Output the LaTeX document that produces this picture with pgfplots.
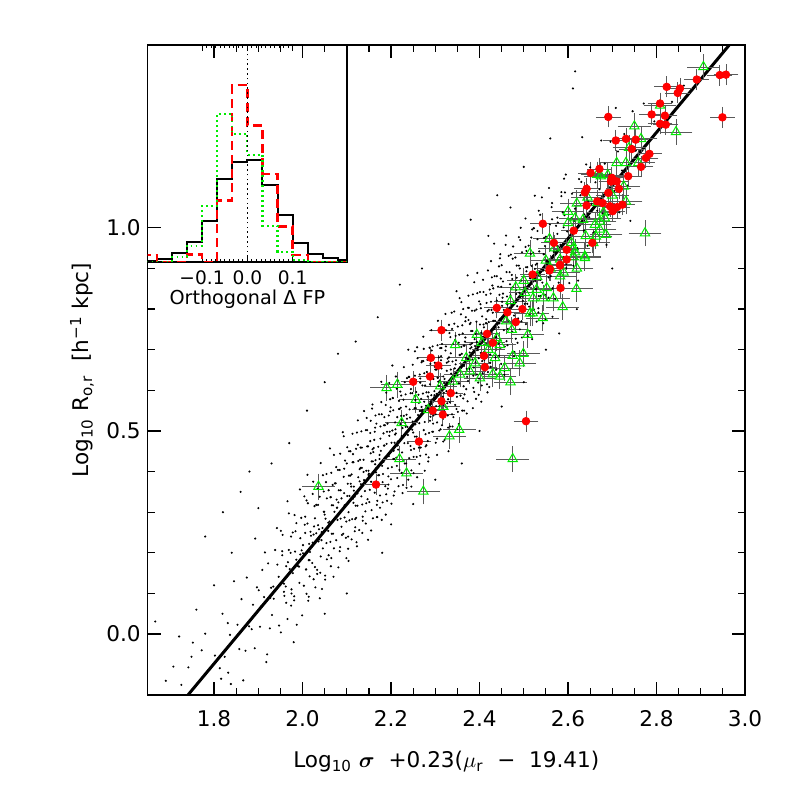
\documentclass[border=0pt]{standalone}
\usepackage{fontspec}
\setmainfont{DejaVu Sans}
\usepackage{bm}
\usepackage{pgfplots}
\pgfplotsset{compat=1.18}
\definecolor{hgreen}{RGB}{0,235,0}
\definecolor{hred}{RGB}{255,0,0}
\definecolor{ebar}{RGB}{90,90,90}

% faint sample (black dots)
\pgfplotstableread{
x y
1.667 0.031
1.691 -0.115
1.708 -0.080
1.721 -0.006
1.742 -0.082
1.749 -0.056
1.752 -0.021
1.780 0.001
1.813 -0.084
1.832 -0.095
1.836 -0.002
1.772 -0.040
1.726 -0.125
1.76 0.06
1.78 0.24
1.80 0.12
1.82 0.30
1.84 0.20
1.86 0.35
1.88 0.40
1.90 0.31
1.93 0.42
1.97 0.47
2.01 0.55
2.05 0.62
2.08 0.69
2.12 0.72
2.17 0.78
2.22 0.86
2.27 0.90
2.33 0.96
2.38 1.02
2.42 0.98
2.44 1.08
2.47 1.05
2.50 1.15
2.56 1.22
2.577 1.013
2.593 1.087
2.611 1.343
2.616 1.385
1.92 -0.05
1.98 -0.02
2.05 0.05
2.10 0.10
2.18 0.20
2.20 0.27
2.25 0.32
2.30 0.38
2.33 0.45
2.36 0.42
2.40 0.50
2.45 0.56
2.50 0.62
2.55 0.70
2.58 0.74
2.62 0.80
2.70 0.90
1.802 -0.053
1.816 -0.110
1.819 0.050
1.824 -0.056
1.831 0.027
1.838 -0.123
1.845 0.130
1.853 0.023
1.857 -0.037
1.862 0.086
1.866 -0.114
1.879 0.019
1.874 0.139
1.871 -0.041
1.888 0.072
1.885 0.012
1.893 0.235
1.897 0.115
1.892 -0.035
1.906 0.068
1.909 0.158
1.904 0.018
1.901 0.108
1.918 -0.069
1.915 0.201
1.913 0.091
1.927 0.089
1.922 0.174
1.926 0.014
1.929 0.114
1.934 0.117
1.931 0.047
1.938 0.207
1.935 0.087
1.943 0.171
1.947 0.021
1.942 0.261
1.946 0.141
1.959 0.094
1.954 0.204
1.951 0.004
1.958 0.124
1.955 0.244
1.963 0.077
1.967 0.177
1.962 0.117
1.966 0.327
1.969 0.207
1.974 0.070
1.971 0.160
1.978 0.250
1.975 0.110
1.973 0.200
1.987 0.023
1.982 0.293
1.986 0.183
1.989 0.168
1.984 0.253
1.981 0.093
1.998 0.206
1.995 0.196
1.993 0.126
1.997 0.286
1.992 0.166
2.006 0.249
2.009 0.099
2.004 0.339
2.001 0.219
2.008 0.159
2.005 0.269
2.013 0.082
2.017 0.202
2.012 0.322
2.016 0.142
2.019 0.242
2.014 0.182
2.011 0.392
2.028 0.285
2.025 0.135
2.023 0.225
2.027 0.315
2.022 0.175
2.026 0.265
2.039 0.088
2.034 0.358
2.031 0.248
2.038 0.233
2.035 0.318
2.033 0.158
2.037 0.258
2.045 0.261
2.041 0.191
2.048 0.351
2.043 0.231
2.049 0.301
2.040 0.151
2.046 0.391
2.052 0.284
2.054 0.224
2.055 0.334
2.051 0.134
2.058 0.254
2.053 0.374
2.059 0.194
2.050 0.294
2.066 0.247
2.062 0.457
2.064 0.337
2.065 0.187
2.061 0.277
2.068 0.367
2.063 0.227
2.069 0.317
2.070 0.141
2.076 0.411
2.072 0.301
2.074 0.286
2.075 0.371
2.071 0.211
2.078 0.311
2.077 0.331
2.089 0.244
2.080 0.404
2.086 0.284
2.082 0.354
2.084 0.204
2.085 0.444
2.081 0.324
2.088 0.264
2.093 0.387
2.099 0.187
2.090 0.307
2.096 0.427
2.092 0.247
2.094 0.347
2.095 0.287
2.091 0.497
2.108 0.390
2.103 0.240
2.109 0.330
2.100 0.420
2.106 0.280
2.102 0.370
2.104 0.180
2.105 0.450
2.101 0.340
2.118 0.338
2.113 0.423
2.119 0.263
2.110 0.363
2.116 0.353
2.112 0.283
2.114 0.443
2.115 0.323
2.111 0.393
2.128 0.256
2.123 0.496
2.129 0.376
2.120 0.316
2.126 0.426
2.122 0.226
2.124 0.346
2.125 0.466
2.121 0.286
2.138 0.399
2.133 0.339
2.139 0.549
2.130 0.429
2.136 0.279
2.132 0.369
2.134 0.459
2.135 0.319
2.131 0.409
2.148 0.232
2.143 0.502
2.149 0.392
2.140 0.377
2.146 0.462
2.142 0.302
2.144 0.402
2.147 0.332
2.153 0.475
2.150 0.395
2.159 0.285
2.154 0.525
2.156 0.425
2.151 0.325
2.158 0.455
2.155 0.375
2.157 0.555
2.152 0.355
2.160 0.448
2.169 0.288
2.164 0.508
2.166 0.398
2.161 0.458
2.168 0.318
2.165 0.428
2.167 0.518
2.163 0.348
2.162 0.478
2.179 0.281
2.174 0.431
2.176 0.511
2.171 0.391
2.178 0.621
2.175 0.341
2.177 0.451
2.173 0.541
2.170 0.411
2.172 0.371
2.184 0.514
2.186 0.434
2.181 0.324
2.188 0.564
2.185 0.464
2.187 0.364
2.183 0.494
2.180 0.414
2.189 0.594
2.182 0.394
2.196 0.488
2.191 0.328
2.198 0.548
2.195 0.438
2.197 0.498
2.193 0.358
2.190 0.468
2.199 0.558
2.194 0.388
2.192 0.518
2.201 0.321
2.208 0.471
2.205 0.551
2.207 0.431
2.203 0.661
2.200 0.381
2.209 0.491
2.204 0.581
2.206 0.451
2.202 0.411
2.218 0.554
2.215 0.474
2.217 0.364
2.213 0.604
2.210 0.504
2.219 0.404
2.214 0.534
2.216 0.454
2.211 0.634
2.212 0.434
2.225 0.527
2.227 0.367
2.223 0.587
2.220 0.477
2.229 0.537
2.224 0.397
2.226 0.507
2.221 0.597
2.228 0.427
2.222 0.557
2.235 0.360
2.237 0.510
2.233 0.590
2.230 0.470
2.239 0.700
2.234 0.420
2.236 0.530
2.231 0.620
2.238 0.490
2.232 0.520
2.241 0.433
2.248 0.593
2.243 0.508
2.249 0.523
2.240 0.633
2.246 0.363
2.242 0.553
2.244 0.463
2.245 0.603
2.247 0.513
2.258 0.436
2.253 0.586
2.259 0.706
2.250 0.496
2.256 0.556
2.252 0.456
2.254 0.636
2.255 0.516
2.251 0.396
2.257 0.596
2.254 0.486
2.269 0.559
2.260 0.679
2.266 0.439
2.262 0.589
2.264 0.519
2.265 0.639
2.261 0.479
2.268 0.549
2.263 0.569
2.267 0.459
2.266 0.619
2.273 0.547
2.279 0.562
2.270 0.672
2.276 0.402
2.272 0.592
2.274 0.502
2.275 0.642
2.271 0.552
2.278 0.462
2.277 0.612
2.273 0.732
2.289 0.535
2.280 0.595
2.286 0.495
2.282 0.675
2.284 0.555
2.285 0.435
2.281 0.635
2.288 0.525
2.283 0.585
2.287 0.705
2.280 0.465
2.296 0.628
2.292 0.558
2.294 0.678
2.295 0.518
2.291 0.588
2.298 0.598
2.293 0.498
2.299 0.658
2.290 0.573
2.297 0.583
2.292 0.698
2.304 0.441
2.305 0.631
2.301 0.541
2.308 0.681
2.303 0.591
2.309 0.501
2.300 0.651
2.306 0.771
2.302 0.561
2.307 0.621
2.304 0.521
2.315 0.714
2.311 0.594
2.318 0.474
2.313 0.674
2.319 0.564
2.310 0.624
2.316 0.744
2.312 0.504
2.314 0.654
2.317 0.584
2.311 0.704
2.325 0.558
2.321 0.628
2.327 0.568
2.323 0.698
2.320 0.618
2.329 0.508
2.324 0.748
2.326 0.648
2.321 0.548
2.328 0.678
2.325 0.598
2.337 0.791
2.333 0.591
2.330 0.671
2.339 0.511
2.334 0.731
2.336 0.621
2.331 0.681
2.338 0.541
2.335 0.651
2.332 0.741
2.333 0.571
2.340 0.714
2.349 0.504
2.344 0.654
2.346 0.734
2.341 0.614
2.348 0.844
2.345 0.564
2.347 0.674
2.343 0.764
2.342 0.634
2.348 0.594
2.354 0.737
2.356 0.657
2.351 0.547
2.358 0.787
2.355 0.687
2.357 0.587
2.353 0.717
2.350 0.637
2.359 0.817
2.352 0.617
2.366 0.710
2.361 0.550
2.368 0.770
2.365 0.660
2.367 0.720
2.363 0.580
2.360 0.690
2.369 0.780
2.364 0.610
2.362 0.740
2.371 0.543
2.378 0.693
2.375 0.773
2.377 0.653
2.373 0.883
2.370 0.603
2.379 0.713
2.374 0.803
2.376 0.673
2.372 0.633
2.382 0.706
2.386 0.636
2.389 0.796
2.384 0.676
2.381 0.746
2.388 0.596
2.385 0.836
2.383 0.716
2.387 0.656
2.380 0.766
2.392 0.579
2.396 0.699
2.399 0.819
2.394 0.639
2.391 0.739
2.398 0.679
2.395 0.889
2.393 0.769
2.397 0.619
2.390 0.709
2.402 0.812
2.406 0.672
2.409 0.762
2.404 0.572
2.401 0.842
2.408 0.732
2.405 0.717
2.403 0.802
2.407 0.642
2.410 0.755
2.416 0.765
2.412 0.665
2.418 0.795
2.414 0.715
2.419 0.895
2.411 0.695
2.415 0.775
2.417 0.615
2.423 0.848
2.420 0.738
2.427 0.798
2.425 0.658
2.421 0.768
2.429 0.858
2.424 0.688
2.426 0.818
2.422 0.608
2.435 0.771
2.431 0.851
2.438 0.731
2.433 0.961
2.436 0.681
2.430 0.791
2.439 0.881
2.434 0.751
2.437 0.711
2.442 0.855
2.446 0.775
2.449 0.665
2.444 0.905
2.441 0.805
2.448 0.705
2.445 0.835
2.443 0.755
2.447 0.935
2.451 0.808
2.457 0.708
2.453 0.868
2.459 0.783
2.455 0.798
2.450 0.908
2.456 0.638
2.452 0.828
2.464 0.751
2.461 0.891
2.468 0.801
2.463 0.711
2.469 0.861
2.460 0.981
2.466 0.771
2.462 0.831
2.474 0.744
2.475 0.924
2.471 0.804
2.478 0.684
2.473 0.884
2.479 0.774
2.470 0.834
2.476 0.954
2.482 0.727
2.484 0.877
2.485 0.807
2.481 0.927
2.488 0.767
2.483 0.837
2.487 0.777
2.489 0.907
2.490 0.840
2.496 0.730
2.492 0.970
2.494 0.870
2.495 0.770
2.491 0.900
2.498 0.820
2.493 1.000
2.502 0.813
2.506 0.893
2.509 0.733
2.504 0.953
2.501 0.843
2.508 0.903
2.505 0.763
2.513 0.886
2.517 0.976
2.512 0.806
2.516 0.936
2.519 0.726
2.514 0.876
2.511 0.956
2.528 0.849
2.525 1.079
2.523 0.799
2.527 0.909
2.522 0.999
2.526 0.869
2.529 0.889
2.534 0.832
2.531 0.992
2.538 0.872
2.535 0.942
2.533 0.792
2.537 1.032
2.530 0.912
2.542 0.865
2.546 0.975
2.549 0.775
2.544 0.895
2.541 1.015
2.548 0.835
2.545 0.935
2.553 0.888
2.557 1.098
2.550 0.978
2.556 0.828
2.552 0.918
2.564 1.021
2.561 0.881
2.568 0.971
2.565 0.781
2.563 1.051
2.577 0.955
2.572 0.940
2.576 1.025
2.579 0.865
2.574 0.965
2.581 0.908
2.588 1.038
2.583 0.958
2.589 0.848
2.585 1.088
2.590 1.001
2.596 0.901
2.592 1.031
2.594 0.951
2.595 1.131
2.601 0.944
2.608 1.024
2.603 0.864
2.609 1.084
2.610 0.987
2.616 1.047
2.612 0.907
2.614 1.017
2.625 1.120
2.621 0.950
2.628 1.080
2.623 0.870
2.637 1.033
2.630 1.113
2.636 0.993
2.632 1.223
2.644 0.956
2.645 1.066
2.641 1.156
2.648 1.026
2.653 1.059
2.659 0.989
2.650 1.149
2.666 1.042
2.662 1.112
2.664 0.962
2.675 1.215
2.671 1.095
2.678 1.035
2.683 1.158
2.687 0.958
2.680 1.078
2.696 1.212
2.692 1.032
2.694 1.132
2.705 1.091
2.708 1.295
2.713 1.188
2.716 1.038
2.722 1.141
2.727 1.231
2.734 1.104
2.738 1.194
2.741 1.017
2.746 1.287
2.753 1.190
2.762 1.188
2.771 1.306
2.784 1.214
2.795 1.262
2.812 1.256
2.835 1.310
2.862 1.350
}\sample

% more of the dense core of the sample
\pgfplotstableread{
x y
1.954 0.194
1.958 0.104
1.951 0.254
1.966 0.037
1.963 0.167
1.969 0.297
1.975 0.100
1.974 0.240
1.978 0.150
1.981 0.083
1.986 0.273
1.983 0.203
1.999 0.046
1.995 0.236
1.994 0.356
2.008 0.159
2.001 0.199
2.006 0.289
2.003 0.119
2.009 0.329
2.015 0.222
2.014 0.092
2.018 0.252
2.011 0.272
2.016 0.182
2.023 0.345
2.029 0.115
2.025 0.245
2.024 0.375
2.028 0.165
2.031 0.318
2.036 0.228
2.033 0.148
2.039 0.338
2.035 0.268
2.044 0.111
2.048 0.301
2.041 0.421
2.046 0.211
2.043 0.251
2.059 0.354
2.055 0.184
2.054 0.394
2.058 0.274
2.051 0.144
2.066 0.317
2.063 0.337
2.069 0.247
2.065 0.397
2.064 0.167
2.078 0.311
2.071 0.441
2.076 0.231
2.073 0.371
2.079 0.281
2.085 0.214
2.084 0.404
2.088 0.334
2.081 0.164
2.086 0.354
2.093 0.487
2.099 0.277
2.095 0.317
2.094 0.407
2.098 0.237
2.101 0.460
2.106 0.340
2.103 0.210
2.109 0.370
2.105 0.390
2.104 0.300
2.108 0.450
2.111 0.233
2.116 0.363
2.113 0.493
2.119 0.283
2.115 0.423
2.114 0.333
2.118 0.253
2.121 0.456
2.126 0.386
2.123 0.216
2.129 0.406
2.125 0.526
2.124 0.316
2.128 0.356
2.131 0.459
2.136 0.289
2.133 0.499
2.139 0.379
2.135 0.249
2.134 0.409
2.138 0.429
2.141 0.352
2.146 0.502
2.143 0.272
2.149 0.402
2.145 0.532
2.144 0.322
2.148 0.462
2.151 0.385
2.156 0.305
2.153 0.495
2.159 0.425
2.155 0.255
2.154 0.445
2.158 0.565
2.161 0.368
2.166 0.408
2.163 0.498
2.169 0.328
2.165 0.538
2.164 0.418
2.168 0.288
2.171 0.461
2.176 0.481
2.173 0.391
2.179 0.541
2.175 0.311
2.174 0.441
2.178 0.571
2.181 0.374
2.186 0.514
2.183 0.424
2.189 0.344
2.185 0.534
2.184 0.464
2.188 0.294
2.191 0.498
2.196 0.618
2.193 0.408
2.199 0.448
2.195 0.538
2.194 0.368
2.198 0.578
2.201 0.471
2.206 0.341
2.203 0.501
2.209 0.521
2.205 0.431
2.204 0.581
2.208 0.351
2.211 0.494
2.216 0.624
2.213 0.414
2.219 0.554
2.215 0.464
2.214 0.384
2.218 0.574
2.221 0.517
2.226 0.347
2.223 0.537
2.229 0.657
2.225 0.447
2.224 0.487
2.228 0.577
2.231 0.420
2.236 0.630
2.233 0.510
2.239 0.380
2.235 0.540
2.234 0.560
2.238 0.470
2.241 0.633
2.246 0.403
2.243 0.533
2.249 0.663
2.245 0.453
2.244 0.593
2.248 0.503
2.251 0.436
2.256 0.626
2.253 0.556
2.259 0.386
2.255 0.576
2.254 0.696
2.258 0.486
2.261 0.539
2.266 0.629
2.263 0.459
2.269 0.669
2.265 0.549
2.264 0.419
2.268 0.579
2.271 0.612
2.276 0.522
2.273 0.672
2.279 0.442
2.275 0.572
2.274 0.702
2.278 0.492
2.281 0.645
2.286 0.555
2.283 0.475
2.289 0.665
2.285 0.595
2.284 0.425
2.288 0.615
2.291 0.748
2.296 0.538
2.293 0.578
2.299 0.668
2.295 0.498
2.294 0.708
2.298 0.588
2.301 0.471
2.306 0.631
2.303 0.651
2.309 0.561
2.305 0.711
2.304 0.481
2.308 0.611
2.311 0.754
2.316 0.544
2.313 0.684
2.319 0.594
2.315 0.514
2.314 0.704
2.318 0.634
2.321 0.478
2.326 0.668
2.323 0.788
2.329 0.578
2.325 0.618
2.324 0.708
2.328 0.538
2.331 0.761
2.336 0.641
2.333 0.511
2.339 0.671
2.335 0.691
2.334 0.601
2.338 0.751
2.341 0.534
2.346 0.664
2.343 0.794
2.349 0.584
2.345 0.724
2.344 0.634
2.348 0.554
2.351 0.757
2.356 0.687
2.353 0.517
2.359 0.707
2.355 0.827
2.354 0.617
2.358 0.657
2.361 0.760
2.366 0.590
2.363 0.800
2.369 0.680
2.365 0.550
2.364 0.710
2.368 0.730
2.371 0.653
2.376 0.803
2.373 0.573
2.379 0.703
2.375 0.833
2.374 0.623
2.378 0.763
2.381 0.686
2.386 0.606
2.383 0.796
2.389 0.726
2.385 0.556
2.384 0.746
2.388 0.866
2.391 0.669
2.396 0.709
2.393 0.799
2.399 0.629
2.395 0.839
2.394 0.719
2.398 0.589
2.401 0.762
2.406 0.782
2.403 0.692
2.409 0.842
2.405 0.612
2.404 0.742
2.408 0.872
2.411 0.675
2.416 0.815
2.413 0.725
2.419 0.645
2.415 0.835
2.414 0.765
2.418 0.595
2.421 0.798
2.426 0.918
2.423 0.708
2.429 0.748
2.425 0.838
2.424 0.668
2.428 0.878
2.431 0.771
2.436 0.641
2.433 0.801
2.439 0.821
2.435 0.731
2.434 0.881
2.438 0.651
2.441 0.795
2.446 0.925
2.443 0.715
2.449 0.855
2.445 0.765
2.444 0.685
2.448 0.875
2.451 0.818
2.456 0.648
2.453 0.838
2.459 0.958
2.455 0.748
2.464 0.801
2.468 0.891
2.461 0.721
2.466 0.931
2.463 0.811
2.479 0.694
2.475 0.854
2.474 0.874
2.478 0.784
2.471 0.934
2.486 0.717
2.483 0.847
2.489 0.977
2.485 0.767
2.484 0.907
2.498 0.830
2.491 0.750
2.496 0.940
2.493 0.870
2.499 0.700
2.505 0.903
2.504 1.023
2.508 0.813
2.501 0.853
2.506 0.943
2.513 0.786
2.519 0.996
2.515 0.876
2.514 0.746
2.518 0.906
2.521 0.939
2.526 0.849
2.523 0.999
2.529 0.769
2.525 0.899
2.534 1.042
2.538 0.832
2.531 0.972
2.536 0.882
2.533 0.802
2.549 1.005
2.545 0.935
2.544 0.765
2.548 0.955
2.541 1.075
2.556 0.878
2.553 0.918
2.559 1.008
2.565 0.851
2.564 1.061
2.568 0.941
2.571 0.825
2.576 0.985
2.573 1.005
2.589 0.928
2.585 1.078
2.584 0.848
2.598 0.991
2.591 1.121
2.596 0.911
}\sampleb

% green triangles
\pgfplotstableread{
x y
2.906 1.396
2.808 1.301
2.844 1.236
2.765 1.219
2.738 1.197
2.710 1.160
2.731 1.160
2.759 1.160
2.666 1.131
2.674 1.127
2.726 1.102
2.644 1.075
2.666 1.061
2.731 1.065
2.616 1.024
2.634 1.020
2.680 1.038
2.683 1.024
2.600 1.012
2.661 1.008
2.672 1.016
2.558 0.973
2.608 0.963
2.663 0.979
2.686 0.983
2.616 0.940
2.638 0.926
2.657 0.963
2.774 0.987
2.582 0.922
2.612 0.950
2.672 0.996
2.514 0.937
2.638 0.930
2.612 0.928
2.582 0.881
2.619 0.850
2.588 0.805
2.567 0.827
2.544 0.827
2.521 0.827
2.543 0.778
2.514 0.789
2.482 0.854
2.503 0.840
2.529 0.848
2.552 0.852
2.473 0.749
2.509 0.737
2.446 0.712
2.439 0.729
2.394 0.737
2.405 0.717
2.345 0.712
2.435 0.680
2.475 0.685
2.499 0.690
2.491 0.667
2.457 0.655
2.446 0.634
2.390 0.667
2.401 0.630
2.378 0.647
2.356 0.639
2.311 0.610
2.340 0.622
2.190 0.606
2.214 0.614
2.256 0.577
2.284 0.552
2.318 0.560
2.224 0.520
2.354 0.503
2.332 0.487
2.219 0.431
2.235 0.396
2.273 0.351
2.475 0.431
2.036 0.363
2.560 0.900
2.590 0.890
2.620 0.900
2.640 0.980
2.600 1.040
2.570 0.950
2.550 0.920
2.530 0.880
2.500 0.870
2.470 0.820
2.460 0.770
2.420 0.700
2.370 0.680
2.430 0.640
2.470 0.620
2.520 0.790
2.700 1.080
2.690 1.130
2.620 1.060
2.750 1.250
}\greenpts

% red circles
\pgfplotstableread{
x y
2.543 1.010
2.568 0.963
2.613 0.993
2.655 0.963
2.582 0.909
2.597 0.946
2.597 0.922
2.559 0.899
2.691 1.273
2.708 1.215
2.731 1.219
2.753 1.217
2.744 1.194
2.671 1.145
2.651 1.135
2.699 1.123
2.697 1.114
2.710 1.114
2.736 1.127
2.715 1.096
2.691 1.086
2.642 1.096
2.638 1.087
2.642 1.055
2.666 1.065
2.678 1.061
2.695 1.053
2.701 1.041
2.711 1.051
2.723 1.057
2.765 1.150
2.776 1.172
2.784 1.182
2.789 1.279
2.808 1.306
2.819 1.276
2.808 1.256
2.821 1.254
2.823 1.347
2.848 1.332
2.853 1.343
2.891 1.365
2.943 1.376
2.957 1.377
2.949 1.272
2.314 0.748
2.290 0.680
2.307 0.661
2.288 0.634
2.250 0.621
2.335 0.593
2.314 0.573
2.294 0.550
2.317 0.540
2.263 0.474
2.505 0.524
2.439 0.803
2.463 0.792
2.497 0.800
2.482 0.768
2.417 0.739
2.430 0.717
2.410 0.685
2.412 0.657
2.520 0.885
2.558 0.895
2.582 0.907
2.583 0.852
2.166 0.368
}\redpts

\begin{document}
\begin{tikzpicture}
\useasboundingbox (-73.85pt,-47pt) rectangle (320.65pt,347.5pt);
\begin{axis}[
    name=main,
    at={(0pt,0pt)}, anchor=south west,
    scale only axis,
    width=298.65pt, height=325pt,
    xmin=1.65, xmax=3.0, ymin=-0.15, ymax=1.45,
    xtick={1.8,2.0,2.2,2.4,2.6,2.8,3.0},
    xticklabels={1.8,2.0,2.2,2.4,2.6,2.8,3.0},
    ytick={0,0.5,1.0},
    yticklabels={0.0,0.5,1.0},
    minor x tick num=3,
    minor y tick num=4,
    major tick length=6.5pt,
    minor tick length=3.5pt,
    tick style={black, line width=0.6pt},
    axis line style={line width=0.8pt},
    tick label style={font=\fontsize{10.8}{13}\selectfont},
    xticklabel style={yshift=-4pt},
    label style={font=\fontsize{10.8}{13}\selectfont},
    xlabel={Log\textsubscript{10}\ $\bm{\sigma}$\ \ +0.23($\mu_{\mathrm{r}}$\ \ −\ \ 19.41)},
    ylabel={Log\textsubscript{10}\ R\textsubscript{o,r}\ \ [h\textsuperscript{−1}\ kpc]},
    xlabel style={at={(axis description cs:0.5,-0.103)}, anchor=center},
    ylabel style={at={(axis description cs:-0.11,0.5)}, anchor=center},
    clip=true,
]
\addplot[only marks, mark=*, mark size=0.3pt, mark options={draw=none, fill=black!85}] table[x=x, y=y] {\sample};
\addplot[only marks, mark=*, mark size=0.3pt, mark options={draw=none, fill=black!85}] table[x=x, y=y] {\sampleb};
\addplot[black, line width=1.5pt] coordinates {(1.741,-0.15) (2.9645,1.45)};
\addplot[only marks, mark=triangle, mark size=2.7pt,
    mark options={draw=hgreen, fill=none, line width=0.5pt},
    error bars/.cd, x dir=both, x fixed=0.028, y dir=both, y fixed=0.022,
    error bar style={ebar, line width=0.4pt},
    error mark options={ebar, mark size=2pt, line width=0.4pt}]
    table[x=x, y=y] {\greenpts};
\addplot[only marks, mark=*, mark size=1.9pt,
    mark options={draw=hred, fill=hred},
    error bars/.cd, x dir=both, x fixed=0.019, y dir=both, y fixed=0.016,
    error bar style={ebar, line width=0.4pt},
    error mark options={ebar, mark size=2pt, line width=0.4pt}]
    table[x=x, y=y] {\redpts};
\end{axis}
\begin{axis}[
    at={(main.north west)}, anchor=north west,
    scale only axis,
    width=99.65pt, height=108.35pt,
    xmin=-0.22, xmax=0.22, ymin=0, ymax=1,
    xtick={-0.1,0,0.1},
    xticklabels={−0.1,0.0,0.1},
    ytick=\empty,
    minor x tick num=9,
    major tick length=3pt,
    minor tick length=1.5pt,
    tick style={black, line width=0.4pt},
    axis line style={line width=0.8pt},
    tick label style={font=\fontsize{9.3}{11}\selectfont},
    xticklabel style={yshift=-1pt},
    xlabel={Orthogonal Δ FP},
    label style={font=\fontsize{9.6}{11}\selectfont},
    xlabel style={at={(axis description cs:0.5,-0.175)}, anchor=center},
]
\addplot[black, line width=1pt, const plot] coordinates {
(-0.2333,0.005) (-0.2,0.011) (-0.1667,0.042) (-0.1333,0.089) (-0.1,0.189)
(-0.0667,0.380) (-0.0333,0.462) (0,0.468) (0.0333,0.354) (0.0667,0.215)
(0.1,0.088) (0.1333,0.034) (0.1667,0.015) (0.2,0.008) (0.2333,0.008)};
\addplot[hred, line width=1.2pt, dash pattern=on 4.5pt off 2.5pt, const plot] coordinates {
(-0.2333,0.031) (-0.2,0) (-0.1667,0) (-0.1333,0.034) (-0.1,0)
(-0.0667,0.282) (-0.0333,0.815) (0,0.628) (0.0333,0.405) (0.0667,0.162)
(0.1,0.031) (0.1333,0) (0.1667,0) (0.2,0) (0.2333,0)};
\addplot[hgreen, line width=1.1pt, dash pattern=on 0.9pt off 1.6pt, const plot] coordinates {
(-0.2333,0) (-0.2,0) (-0.1667,0.023) (-0.1333,0.074) (-0.1,0.257)
(-0.0667,0.682) (-0.0333,0.589) (0,0.492) (0.0333,0.166) (0.0667,0.046)
(0.1,0.008) (0.1333,0) (0.1667,0) (0.2,0) (0.2333,0)};
\addplot[black, line width=0.6pt, dash pattern=on 0.8pt off 1.6pt] coordinates {(0,0) (0,1)};
\end{axis}
\end{tikzpicture}
\end{document}
